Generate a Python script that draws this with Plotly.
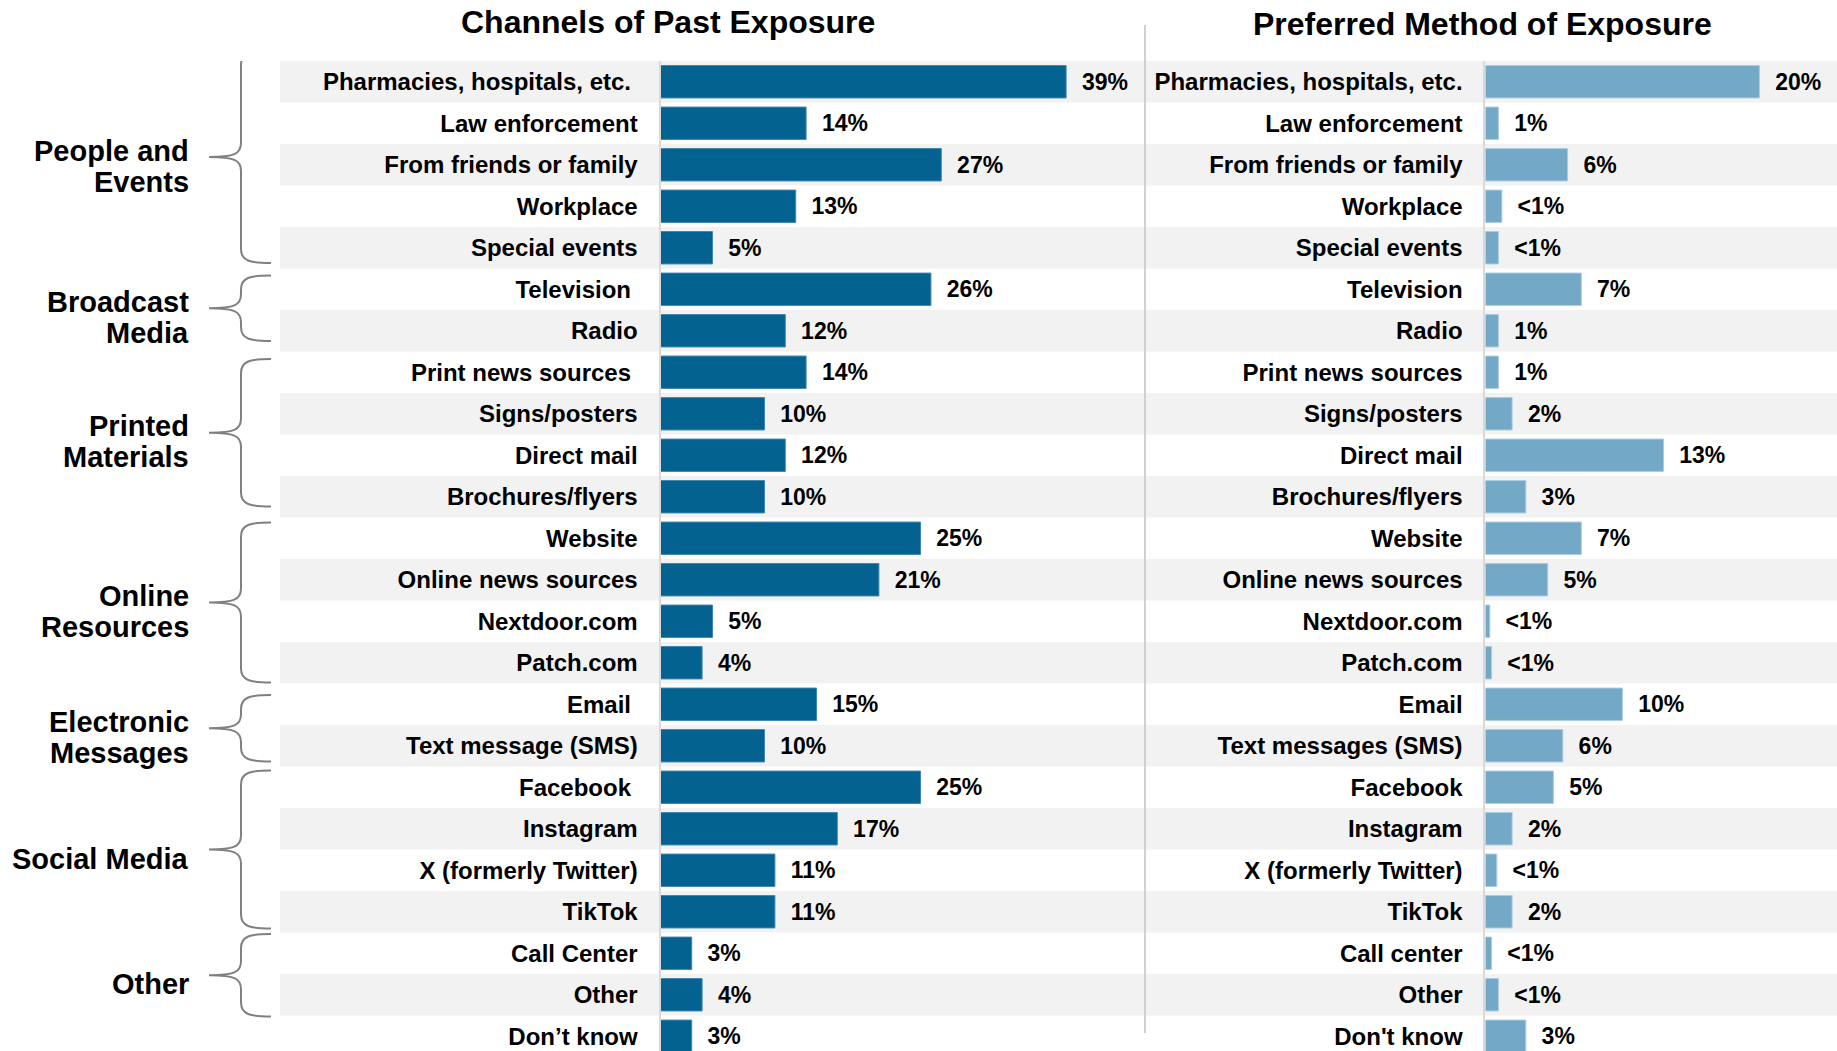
import plotly.graph_objects as go

# ---------------- data ----------------
past_labels = [
    "Pharmacies, hospitals, etc.\u00a0", "Law enforcement", "From friends or family", "Workplace",
    "Special events", "Television\u00a0", "Radio", "Print news sources\u00a0", "Signs/posters",
    "Direct mail", "Brochures/flyers", "Website", "Online news sources", "Nextdoor.com",
    "Patch.com", "Email\u00a0", "Text message (SMS)", "Facebook\u00a0", "Instagram",
    "X (formerly Twitter)", "TikTok", "Call Center", "Other", "Don\u2019t know",
]
past_values = [39, 14, 27, 13, 5, 26, 12, 14, 10, 12, 10, 25, 21, 5, 4, 15, 10, 25, 17, 11, 11, 3, 4, 3]
past_text = ["39%", "14%", "27%", "13%", "5%", "26%", "12%", "14%", "10%", "12%", "10%", "25%",
             "21%", "5%", "4%", "15%", "10%", "25%", "17%", "11%", "11%", "3%", "4%", "3%"]

pref_labels = [
    "Pharmacies, hospitals, etc.", "Law enforcement", "From friends or family", "Workplace",
    "Special events", "Television", "Radio", "Print news sources", "Signs/posters",
    "Direct mail", "Brochures/flyers", "Website", "Online news sources", "Nextdoor.com",
    "Patch.com", "Email", "Text messages (SMS)", "Facebook", "Instagram",
    "X (formerly Twitter)", "TikTok", "Call center", "Other", "Don't know",
]
pref_values = [20, 0.95, 6, 1.2, 0.95, 7, 0.95, 0.95, 1.95, 13, 2.95, 7, 4.55, 0.32,
               0.45, 10, 5.65, 4.96, 1.95, 0.83, 1.95, 0.45, 0.95, 2.95]
pref_text = ["20%", "1%", "6%", "<1%", "<1%", "7%", "1%", "1%", "2%", "13%", "3%", "7%",
             "5%", "<1%", "<1%", "10%", "6%", "5%", "2%", "<1%", "2%", "<1%", "<1%", "3%"]

group_lines = [["People and", "Events"], ["Broadcast", "Media"], ["Printed", "Materials"],
               ["Online", "Resources"], ["Electronic", "Messages"], ["Social Media"], ["Other"]]
group_first = [0, 5, 7, 11, 15, 17, 21]
group_last = [4, 6, 10, 14, 16, 20, 22]

title_left = "Channels of Past Exposure"
title_right = "Preferred Method of Exposure"

# ---------------- layout constants (pixels) ----------------
W, H = 1837, 1051
TOP = 61
ROW = 41.5
PLOT_H = H - TOP
n_vis = PLOT_H / ROW

FONT = "Liberation Sans, Arial, sans-serif"
DARK = "#03628f"
LIGHT = "#73a9c7"

left_base, divider_x, right_base = 660.5, 1145.0, 1485.4
left_ppu, right_ppu = 10.4, 13.7

# bracket insets from the group's row edges (top, bottom), in pixels
bracket_insets = [(-10, 5.5), (7, 10.5), (7.5, 11), (5, 1), (11.5, 5), (4, 4), (1.5, -1)]
LABEL_DROP = 9
LINE_GAP = 31


def px(x):
    return x / W


def d(p):
    return p / ROW


fig = go.Figure()

fig.add_trace(go.Bar(
    y=past_labels, x=past_values, orientation="h",
    text=["\u00a0\u00a0" + t for t in past_text], textposition="outside",
    textfont=dict(family=FONT, size=23, color="black", weight="bold"),
    marker=dict(color=DARK, line=dict(color="#3f86b0", width=1)),
    cliponaxis=False, constraintext="none", xaxis="x", yaxis="y", hoverinfo="skip",
))
fig.add_trace(go.Bar(
    y=pref_labels, x=pref_values, orientation="h",
    text=["\u00a0\u00a0" + t for t in pref_text], textposition="outside",
    textfont=dict(family=FONT, size=23, color="black", weight="bold"),
    marker=dict(color=LIGHT, line=dict(color="#a9cce0", width=1)),
    cliponaxis=False, constraintext="none", xaxis="x2", yaxis="y2", hoverinfo="skip",
))

yrange = [n_vis - 0.5, -0.5]
ycommon = dict(
    type="category", range=yrange, showgrid=False, zeroline=False,
    showline=True, linecolor="#d9d9d9", linewidth=2, ticks="",
    tickfont=dict(family=FONT, size=24, color="black", weight="bold"),
    ticklabelstandoff=16, fixedrange=True,
)

shapes = []
# alternating row bands
for r in range(0, len(past_labels), 2):
    shapes.append(dict(type="rect", xref="paper", yref="y", x0=px(280), x1=1,
                       y0=r - 0.5, y1=r + 0.5, fillcolor="#f2f2f2",
                       line=dict(width=0), layer="below"))
# divider
shapes.append(dict(type="line", xref="paper", yref="paper", x0=px(divider_x), x1=px(divider_x),
                   y0=(H - 1033) / PLOT_H, y1=(H - 25) / PLOT_H,
                   line=dict(color="#d0d0d0", width=2)))

annotations = []
xe, xv, xt = px(271), px(241), px(209)
for lines, a, b, (ti, bi) in zip(group_lines, group_first, group_last, bracket_insets):
    top = a - 0.5 + d(ti)
    bot = b + 0.5 - d(bi)
    mid = (top + bot) / 2
    path = (f"M {xe},{top} C {px(250)},{top} {xv},{top + d(2)} {xv},{top + d(14)} "
            f"L {xv},{mid - d(14)} C {xv},{mid - d(3)} {px(234)},{mid} {xt},{mid} "
            f"C {px(234)},{mid} {xv},{mid + d(3)} {xv},{mid + d(14)} "
            f"L {xv},{bot - d(14)} C {xv},{bot - d(2)} {px(250)},{bot} {xe},{bot}")
    shapes.append(dict(type="path", xref="paper", yref="y", path=path,
                       line=dict(color="#808080", width=2)))
    n = len(lines)
    for i, ln in enumerate(lines):
        annotations.append(dict(
            text=ln, xref="paper", yref="y", x=px(191), y=mid, xanchor="right",
            yanchor="middle", showarrow=False,
            yshift=-LABEL_DROP - (i - (n - 1) / 2) * LINE_GAP,
            font=dict(family=FONT, size=29, color="black", weight="bold"),
        ))

annotations.append(dict(text=title_left, xref="paper", yref="paper", x=px(668),
                        y=(H - 22) / PLOT_H, xanchor="center", yanchor="middle", showarrow=False,
                        font=dict(family=FONT, size=32, color="black", weight="bold")))
annotations.append(dict(text=title_right, xref="paper", yref="paper", x=px(1482),
                        y=(H - 24) / PLOT_H, xanchor="center", yanchor="middle", showarrow=False,
                        font=dict(family=FONT, size=32, color="black", weight="bold")))

fig.update_layout(
    width=W, height=H, autosize=False,
    margin=dict(l=0, r=0, t=TOP, b=0, pad=0),
    paper_bgcolor="white", plot_bgcolor="rgba(0,0,0,0)",
    showlegend=False, bargap=0.22,
    xaxis=dict(domain=[px(left_base), px(divider_x)],
               range=[0, (divider_x - left_base) / left_ppu], visible=False, fixedrange=True),
    xaxis2=dict(domain=[px(right_base), 1.0],
                range=[0, (W - right_base) / right_ppu], visible=False, fixedrange=True),
    yaxis=dict(anchor="x", **ycommon),
    yaxis2=dict(anchor="x2", **ycommon),
    shapes=shapes, annotations=annotations,
)

fig.write_html("out.html", config={"displayModeBar": False},
               post_script="document.body.style.margin='0';")
